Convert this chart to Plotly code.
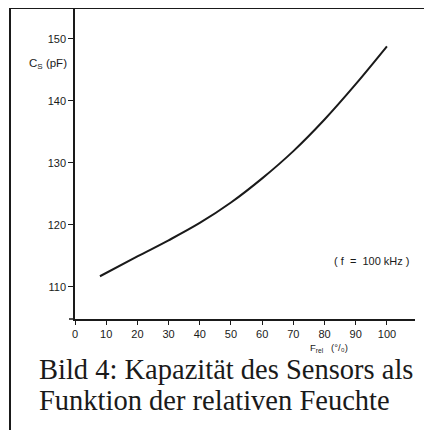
import plotly.graph_objects as go

# Data
humidity = [8, 20, 30, 40, 50, 60, 70, 80, 90, 100]          # F_rel (%)
capacitance = [111.7, 114.9, 117.5, 120.3, 123.6, 127.5, 131.9, 137.0, 142.7, 148.8]  # C_S (pF)

x_ticks = [0, 10, 20, 30, 40, 50, 60, 70, 80, 90, 100]
y_ticks = [110, 120, 130, 140, 150]

ink = "#1a1a1a"
OFF = 8  # page body margin of the html page
W, H = 432 - OFF, 430 - OFF
L, R, T, B = 75 - OFF, 17, 8 - OFF, 111
pw, ph = W - L - R, H - T - B

def px_to_paper_x(px):
    return (px - OFF - L) / pw

def px_to_paper_y(py):
    return (H - B - (py - OFF)) / ph

fig = go.Figure()
fig.add_trace(go.Scatter(
    x=humidity, y=capacitance, mode="lines",
    line=dict(color=ink, width=2, shape="spline", smoothing=1.0),
    hoverinfo="skip", showlegend=False,
))

fig.update_layout(
    width=W, height=H,
    margin=dict(l=L, r=R, t=T, b=B, pad=0),
    paper_bgcolor="white", plot_bgcolor="white",
    font=dict(family="Liberation Sans, Arial, sans-serif", color=ink, size=11),
    xaxis=dict(
        range=[0, 109], tickvals=x_ticks, ticktext=[str(v) for v in x_ticks],
        showgrid=False, zeroline=False, showline=True, linecolor=ink, linewidth=1.5,
        ticks="outside", ticklen=4, tickwidth=1.2, tickcolor=ink,
        tickfont=dict(size=11, color=ink),
    ),
    yaxis=dict(
        range=[104.8, 155], tickvals=y_ticks, ticktext=[str(v) for v in y_ticks],
        showgrid=False, zeroline=False, showline=True, linecolor=ink, linewidth=1.5,
        ticks="outside", ticklen=5, tickwidth=1.2, tickcolor=ink,
        tickfont=dict(size=11, color=ink),
    ),
    shapes=[
        # outer frame of the figure (left and top visible)
        dict(type="rect", xref="paper", yref="paper",
             x0=px_to_paper_x(10), x1=px_to_paper_x(445),
             y0=px_to_paper_y(445), y1=px_to_paper_y(8),
             line=dict(color=ink, width=2)),
        # small overhang of x axis to the left of the y axis
        dict(type="line", xref="paper", yref="paper",
             x0=px_to_paper_x(69), x1=0, y0=0, y1=0,
             line=dict(color=ink, width=1.5)),
    ],
    annotations=[
        dict(text="C<sub>S</sub> (pF)", xref="paper", yref="paper",
             x=px_to_paper_x(69), y=px_to_paper_y(64), xanchor="right", yanchor="middle",
             showarrow=False, font=dict(size=11.5, color=ink)),
        dict(text="( f  =  100 kHz )", xref="paper", yref="paper",
             x=px_to_paper_x(412), y=px_to_paper_y(261), xanchor="right", yanchor="middle",
             showarrow=False, font=dict(size=11, color=ink)),
        dict(text="F<sub>rel</sub>   (°/₀)", xref="paper", yref="paper",
             x=px_to_paper_x(329), y=px_to_paper_y(348), xanchor="center", yanchor="middle",
             showarrow=False, font=dict(size=9.5, color=ink)),
        dict(text="Bild 4: Kapazität des Sensors als", xref="paper", yref="paper",
             x=px_to_paper_x(37), y=px_to_paper_y(369), xanchor="left", yanchor="middle",
             showarrow=False, font=dict(size=28.5, color=ink,
                                        family="Liberation Serif, Times New Roman, serif")),
        dict(text="Funktion der relativen Feuchte", xref="paper", yref="paper",
             x=px_to_paper_x(37), y=px_to_paper_y(400), xanchor="left", yanchor="middle",
             showarrow=False, font=dict(size=28.5, color=ink,
                                        family="Liberation Serif, Times New Roman, serif")),
    ],
)

fig.write_html("out.html")
